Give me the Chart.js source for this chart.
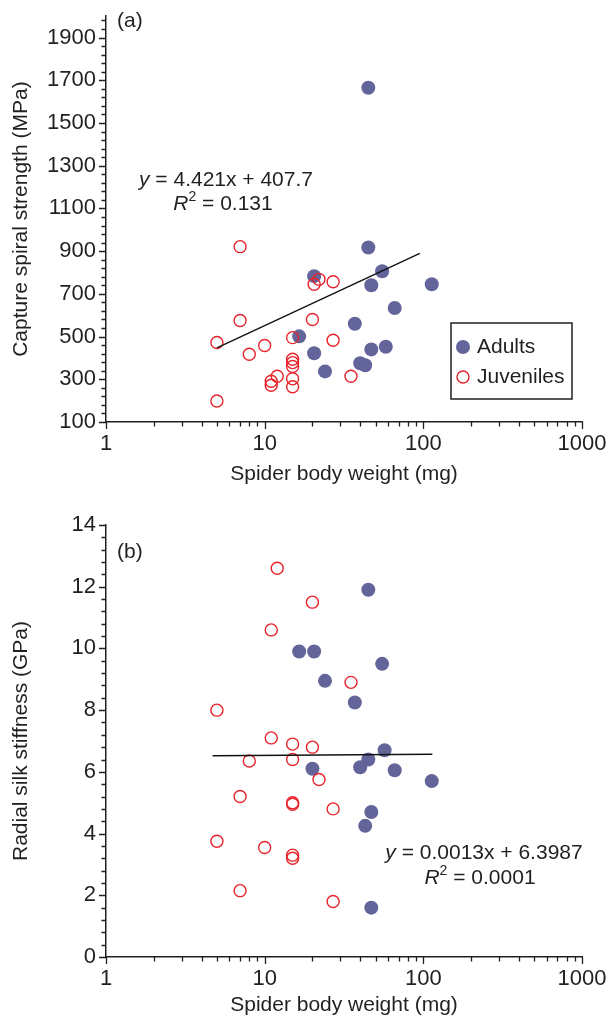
<!DOCTYPE html>
<html>
<head>
<meta charset="utf-8">
<script src="https://cdn.jsdelivr.net/npm/chart.js@4.4.1/dist/chart.umd.min.js"></script>
<style>
  html, body { margin: 0; padding: 0; background: #fff; }
  body { width: 610px; height: 1019px; position: relative; overflow: hidden; }
  canvas { position: absolute; left: 0; }
  #chartA { top: 0; }
  #chartB { top: 500px; }
</style>
</head>
<body>
<canvas id="chartA" width="610" height="500"></canvas>
<canvas id="chartB" width="610" height="519"></canvas>
<script>
// (a) capture spiral strength vs body weight
const strengthAdultWeight = [45, 45, 20.5, 55, 47, 113, 66, 37, 16.5, 20.5, 47, 58, 24, 40, 43];
const strengthAdult = [1665, 917, 783, 806, 740, 745, 634, 560, 501, 422, 440, 452, 337, 375, 366];
const strengthJuvWeight = [7, 7, 5, 8, 10, 12, 11, 11, 15, 15, 15, 15, 15, 15, 5, 20, 22, 20.5, 27, 27, 35];
const strengthJuv = [921, 575, 472, 417, 458, 314, 291, 272, 495, 394, 378, 360, 302, 265, 198, 580, 768, 745, 757, 483, 314];
const strengthFitX = [5, 95];
const strengthFitY = [447, 890];

// (b) radial silk stiffness vs body weight
const stiffAdultWeight = [45, 16.5, 20.5, 55, 24, 37, 57, 45, 20, 40, 66, 113, 47, 43, 47];
const stiffAdult = [11.9, 9.9, 9.9, 9.5, 8.95, 8.25, 6.7, 6.4, 6.1, 6.15, 6.05, 5.7, 4.7, 4.25, 1.6];
const stiffJuvWeight = [12, 20, 11, 35, 5, 11, 15, 20, 8, 15, 22, 7, 15, 15, 27, 5, 10, 15, 15, 7, 27];
const stiffJuv = [12.6, 11.5, 10.6, 8.9, 8.0, 7.1, 6.9, 6.8, 6.35, 6.4, 5.75, 5.2, 5.0, 4.95, 4.8, 3.75, 3.55, 3.3, 3.2, 2.15, 1.8];
const stiffFitX = [4.7, 114];
const stiffFitY = [6.52, 6.57];

// axes
const weightTicks = [1, 10, 100, 1000];
const strengthTicks = [100, 300, 500, 700, 900, 1100, 1300, 1500, 1700, 1900];
const stiffTicks = [0, 2, 4, 6, 8, 10, 12, 14];

const INK = '#231f20';
const ADULT = '#62649a';
const JUV = '#e8232b';
const FONT = '"Liberation Sans", Arial, Helvetica, sans-serif';
const TICK_SIZE = 22;
const TITLE_SIZE = 21;

const pairs = (xs, ys) => xs.map((x, i) => ({ x: x, y: ys[i] }));
const isMajor = (v, majors) => majors.some(m => Math.abs(m - v) < 1e-6);

function logTicks(min, max) {
  const out = [];
  for (let d = min; d < max; d *= 10) {
    for (let k = 1; k < 10; k++) out.push({ value: d * k, major: k === 1 });
  }
  out.push({ value: max, major: true });
  return out;
}

function linTicks(majors, top) {
  const step = (majors[1] - majors[0]) / 5;
  const out = [];
  for (let k = 0; ; k++) {
    const v = Math.round((majors[0] + k * step) * 1000) / 1000;
    if (v > top + 1e-6) break;
    out.push({ value: v, major: isMajor(v, majors) });
  }
  return out;
}

// tick marks drawn on the outside, long for labelled values
const tickMarks = {
  id: 'tickMarks',
  afterDraw(chart) {
    const ctx = chart.ctx;
    ctx.save();
    ctx.strokeStyle = INK;
    ctx.lineWidth = 1.3;
    const xs = chart.scales.x, ys = chart.scales.y;
    ctx.beginPath();
    xs.ticks.forEach(t => {
      const px = Math.round(xs.getPixelForValue(t.value)) + 0.5;
      const len = t.major ? 7 : 4.5;
      ctx.moveTo(px, xs.top);
      ctx.lineTo(px, xs.top + len);
    });
    ys.ticks.forEach(t => {
      const py = Math.round(ys.getPixelForValue(t.value)) + 0.5;
      const len = t.major ? 7 : 4.5;
      ctx.moveTo(ys.right, py);
      ctx.lineTo(ys.right - len, py);
    });
    ctx.stroke();
    ctx.restore();
  }
};

function drawRuns(ctx, runs, cx, cy, size) {
  let w = 0;
  const parts = runs.map(r => {
    const fs = r.sup ? Math.round(size * 0.68) : size;
    const font = (r.italic ? 'italic ' : '') + fs + 'px ' + FONT;
    ctx.font = font;
    const rw = ctx.measureText(r.t).width;
    w += rw;
    return { t: r.t, sup: r.sup, font: font, rw: rw };
  });
  let x = cx - w / 2;
  ctx.textAlign = 'left';
  ctx.textBaseline = 'middle';
  parts.forEach(p => {
    ctx.font = p.font;
    ctx.fillText(p.t, x, p.sup ? cy - size * 0.33 : cy);
    x += p.rw;
  });
}

// panel letter, fit equation and legend box
const notes = {
  id: 'notes',
  afterDraw(chart, args, opts) {
    const ctx = chart.ctx;
    ctx.save();
    ctx.fillStyle = INK;
    ctx.font = TITLE_SIZE + 'px ' + FONT;
    ctx.textAlign = 'left';
    ctx.textBaseline = 'middle';
    ctx.fillText(opts.panel, opts.panelX, opts.panelY);
    drawRuns(ctx, [{ t: 'y', italic: true }, { t: ' = ' + opts.eq }], opts.eqX, opts.eqY, TITLE_SIZE);
    drawRuns(ctx, [{ t: 'R', italic: true }, { t: '2', sup: true }, { t: ' = ' + opts.r2 }], opts.r2X, opts.r2Y, TITLE_SIZE);

    if (opts.legend) {
      const L = opts.legend;
      ctx.lineWidth = 1.5;
      ctx.strokeStyle = INK;
      ctx.strokeRect(L.x, L.y, L.w, L.h);
      // adults listed first, as in the figure
      const sets = chart.data.datasets.filter(d => d.legend).reverse();
      sets.forEach((d, i) => {
        const cy = L.y + 24 + i * 30;
        ctx.beginPath();
        ctx.arc(L.x + 12, cy, d.pointRadius, 0, Math.PI * 2);
        if (d.pointBorderWidth) {
          ctx.lineWidth = d.pointBorderWidth;
          ctx.strokeStyle = d.pointBorderColor;
          ctx.stroke();
        } else {
          ctx.fillStyle = d.pointBackgroundColor;
          ctx.fill();
        }
        ctx.fillStyle = INK;
        ctx.font = TITLE_SIZE + 'px ' + FONT;
        ctx.fillText(d.label, L.x + 26, cy);
      });
    }
    ctx.restore();
  }
};

function makeChart(id, cfg) {
  return new Chart(document.getElementById(id), {
    type: 'scatter',
    data: {
      datasets: [
        {
          type: 'line',
          label: 'fit',
          data: pairs(cfg.fitX, cfg.fitY),
          borderColor: '#111',
          borderWidth: 1.4,
          pointRadius: 0,
          fill: false,
          order: 0
        },
        {
          label: 'Juveniles',
          legend: true,
          data: pairs(cfg.juvX, cfg.juvY),
          pointRadius: 6,
          pointBorderWidth: 1.4,
          pointBorderColor: JUV,
          pointBackgroundColor: 'rgba(0,0,0,0)',
          order: 1
        },
        {
          label: 'Adults',
          legend: true,
          data: pairs(cfg.adX, cfg.adY),
          pointRadius: 7,
          pointBorderWidth: 0,
          pointBackgroundColor: ADULT,
          order: 2
        }
      ]
    },
    options: {
      responsive: false,
      animation: false,
      devicePixelRatio: 1,
      layout: { padding: { top: cfg.padTop, right: 28, left: 0, bottom: 0 } },
      plugins: {
        legend: { display: false },
        tooltip: { enabled: false },
        notes: cfg.notes
      },
      scales: {
        x: {
          type: 'logarithmic',
          min: 1,
          max: 1000,
          afterBuildTicks: s => { s.ticks = logTicks(1, 1000); },
          afterFit: s => { s.height = cfg.xHeight; },
          border: { display: true, color: INK, width: 1.5 },
          grid: { display: true, drawOnChartArea: false, drawTicks: true, tickLength: 7, color: 'rgba(0,0,0,0)' },
          ticks: {
            autoSkip: false,
            maxRotation: 0,
            padding: 2,
            color: INK,
            font: { family: FONT, size: TICK_SIZE },
            callback: v => isMajor(v, weightTicks) ? String(v) : ''
          },
          title: {
            display: true,
            text: 'Spider body weight (mg)',
            color: INK,
            font: { family: FONT, size: TITLE_SIZE },
            padding: { top: 0, bottom: cfg.xTitlePad }
          }
        },
        y: {
          type: 'linear',
          min: cfg.yMin,
          max: cfg.yMax,
          afterBuildTicks: s => { s.ticks = linTicks(cfg.yTicks, cfg.yMax); },
          afterFit: s => { s.width = 106; },
          border: { display: true, color: INK, width: 1.5 },
          grid: { display: true, drawOnChartArea: false, drawTicks: true, tickLength: 7, color: 'rgba(0,0,0,0)' },
          ticks: {
            autoSkip: false,
            padding: 3,
            color: INK,
            font: { family: FONT, size: TICK_SIZE },
            callback: v => isMajor(v, cfg.yTicks) ? String(v) : ''
          },
          title: {
            display: true,
            text: cfg.yTitle,
            color: INK,
            font: { family: FONT, size: TITLE_SIZE },
            padding: { top: 9, bottom: 0 }
          }
        }
      }
    },
    plugins: [tickMarks, notes]
  });
}

makeChart('chartA', {
  adX: strengthAdultWeight, adY: strengthAdult,
  juvX: strengthJuvWeight, juvY: strengthJuv,
  fitX: strengthFitX, fitY: strengthFitY,
  yMin: 100, yMax: 2000, yTicks: strengthTicks,
  yTitle: 'Capture spiral strength (MPa)',
  padTop: 11, xHeight: 78, xTitlePad: 13,
  notes: {
    panel: '(a)', panelX: 117, panelY: 21,
    eq: '4.421x + 407.7', eqX: 226, eqY: 180,
    r2: '0.131', r2X: 223, r2Y: 204,
    legend: { x: 451, y: 323, w: 121, h: 76 }
  }
});

makeChart('chartB', {
  adX: stiffAdultWeight, adY: stiffAdult,
  juvX: stiffJuvWeight, juvY: stiffJuv,
  fitX: stiffFitX, fitY: stiffFitY,
  yMin: 0, yMax: 14, yTicks: stiffTicks,
  yTitle: 'Radial silk stiffness (GPa)',
  padTop: 25, xHeight: 62, xTitlePad: 1,
  notes: {
    panel: '(b)', panelX: 117, panelY: 52,
    eq: '0.0013x + 6.3987', eqX: 484, eqY: 353,
    r2: '0.0001', r2X: 480, r2Y: 378,
    legend: null
  }
});
</script>
</body>
</html>
